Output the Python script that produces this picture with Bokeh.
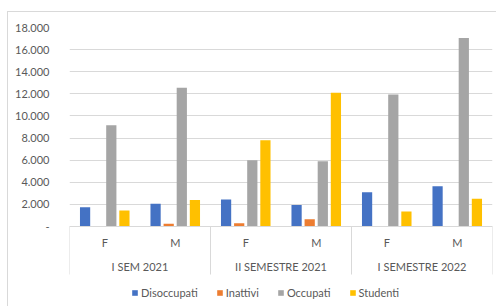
from bokeh.plotting import figure
from bokeh.models import ColumnDataSource, FactorRange, Range1d, FixedTicker, Span
from bokeh.transform import dodge
from bokeh.core.properties import value
from bokeh.embed import file_html
from bokeh.resources import INLINE

groups = ["I SEM 2021", "II SEMESTRE 2021", "I SEMESTRE 2022"]
sexes = ["F", "M"]
series = ["Disoccupati", "Inattivi", "Occupati", "Studenti"]
colors = ["#4472C4", "#ED7D31", "#A5A5A5", "#FFC000"]
disoccupati = [1750, 2050, 2450, 1950, 3100, 3650]
inattivi = [0, 250, 300, 650, 0, 0]
occupati = [9150, 12550, 6000, 5900, 11950, 17050]
studenti = [1450, 2400, 7800, 12100, 1350, 2500]
y_ticks = [0, 2000, 4000, 6000, 8000, 10000, 12000, 14000, 16000, 18000]

FONT = "Lato"
TXT = "#595959"
GRID = "#d9d9d9"

factors = [(g, s) for g in groups for s in sexes]
W, H = 489, 295
B_LEFT, B_TOP, B_RIGHT, B_BOTTOM = 61, 15, 5, 2
frame_h = H - B_TOP - B_BOTTOM
zero_px = 199
y_end = y_ticks[-1]
unit = y_end / zero_px
y_start = -(frame_h - zero_px) * unit

p = figure(width=W, height=H,
           x_range=FactorRange(factors=factors, group_padding=0, factor_padding=0, range_padding=0),
           y_range=Range1d(y_start, y_end),
           output_backend="svg", toolbar_location=None, x_axis_location=None,
           min_border_left=B_LEFT, min_border_right=B_RIGHT,
           min_border_top=B_TOP, min_border_bottom=B_BOTTOM)
p.margin = (11, 0, 0, 7)
p.styles = {"border-left": f"1px solid {GRID}", "border-top": f"1px solid {GRID}"}
p.outline_line_color = None
p.background_fill_color = "white"
p.border_fill_color = "white"

src = ColumnDataSource(dict(x=factors, Disoccupati=disoccupati, Inattivi=inattivi,
                            Occupati=occupati, Studenti=studenti))
step = 0.186
bw = 0.145
for i, (name, col) in enumerate(zip(series, colors)):
    off = (i - 1.5) * step
    p.vbar(x=dodge("x", off, range=p.x_range), top=name, width=bw, source=src,
           fill_color=col, line_color=None, legend_label=name)

# y axis
ax = p.yaxis[0]
ax.ticker = FixedTicker(ticks=y_ticks)
ax.major_label_overrides = {t: ("-" if t == 0 else f"{t:,}".replace(",", ".")) for t in y_ticks}
ax.axis_line_color = None
ax.major_tick_line_color = None
ax.minor_tick_line_color = None
ax.major_label_standoff = 14
ax.major_label_text_font = FONT
ax.major_label_text_font_size = "11px"
ax.major_label_text_color = TXT

p.xgrid.visible = False
p.ygrid.ticker = FixedTicker(ticks=y_ticks)
p.ygrid.grid_line_color = GRID
p.add_layout(Span(location=0, dimension="width", line_color=GRID, line_width=1))

# category separators and labels
sep_x = [(g, sexes[0], -0.5) for g in groups] + [(groups[-1], sexes[-1], 0.5)]
sep_y = -48 * unit
p.segment(x0=sep_x, y0=[0] * len(sep_x), x1=sep_x, y1=[sep_y] * len(sep_x),
          line_color=GRID, line_width=1)
p.text(x=factors, y=[-16 * unit] * len(factors), text=[s for g in groups for s in sexes],
       text_align="center", text_baseline="middle", text_font=value(FONT),
       text_font_size="11px", text_color=TXT)
p.text(x=[(g, sexes[0], 0.5) for g in groups], y=[-40 * unit] * len(groups), text=groups,
       text_align="center", text_baseline="middle", text_font=value(FONT),
       text_font_size="11px", text_color=TXT)

lg = p.legend[0]
lg.orientation = "horizontal"
lg.location = (62, 6)
lg.border_line_color = None
lg.background_fill_alpha = 0
lg.padding = 0
lg.margin = 0
lg.spacing = 18
lg.glyph_width = 7
lg.glyph_height = 7
lg.label_standoff = 3
lg.label_height = 12
lg.label_text_font = FONT
lg.label_text_font_size = "11px"
lg.label_text_color = TXT

open("out.html", "w").write(file_html(p, INLINE))
